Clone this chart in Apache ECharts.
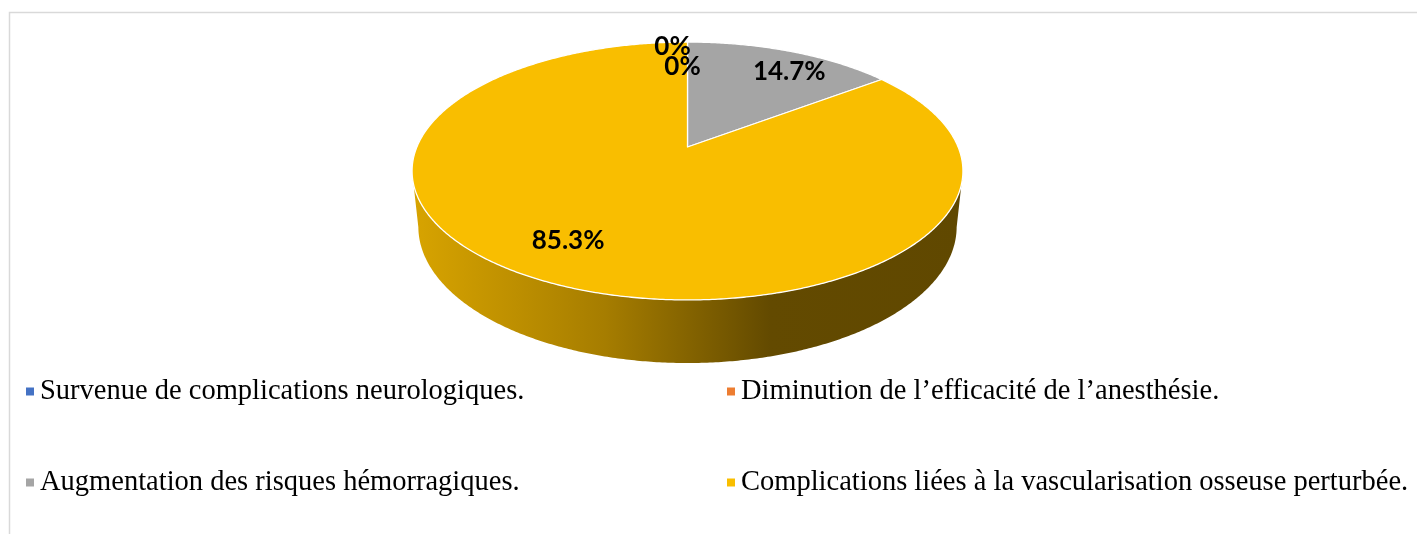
<!DOCTYPE html>
<html>
<head>
<meta charset="utf-8">
<script src="https://cdn.jsdelivr.net/npm/echarts@6/dist/echarts.min.js"></script>
<style>
  html, body { margin: 0; padding: 0; background: #ffffff; }
  #chart { width: 1417px; height: 534px; }
</style>
</head>
<body>
<div id="chart"></div>
<script>
// Categories and their share (%)
const categories = [
  'Survenue de complications neurologiques.',
  'Diminution de l’efficacité de l’anesthésie.',
  'Augmentation des risques hémorragiques.',
  'Complications liées à la vascularisation osseuse perturbée.'
];
const percentages = [0, 0, 14.7, 85.3];
const sliceColors = ['#4472C4', '#ED7D31', '#A5A5A5', '#F9BE00'];
// shading of each slice's outer wall, left to right
const wallShades = [
  ['#3a62a8', '#2d4d86', '#1f365f', '#1d335a'],
  ['#cc6a28', '#a3551f', '#6f3a15', '#6a3714'],
  ['#8e8e8e', '#727272', '#525252', '#4f4f4f'],
  ['#d8a400', '#a67d00', '#634a00', '#604800']
];

// Legend grouping (two columns)
const legendColumnA = [categories[0], categories[2]];
const legendColumnB = [categories[1], categories[3]];

// 3D view of a tilted disc, projected with perspective
const view = {
  cx: 687.5, cy: 147,
  tilt: Math.asin(0.46),
  dist: 4.774,
  focal: 1292,
  depth: 0.234
};
// nudges for label placement (pixels)
const labelNudge = [[-15, -9], [-5, 11], [12, 8], [0, -17]];

function project(theta, r, y) {
  const X = r * Math.sin(theta);
  const Z = -r * Math.cos(theta);
  const s = Math.sin(view.tilt), c = Math.cos(view.tilt);
  const yc = y * c - Z * s;
  const d = view.dist - Z * c - y * s;
  return [view.cx + view.focal * X / d, view.cy - view.focal * yc / d];
}

const total = percentages.reduce((a, b) => a + b, 0);
const silhouette = Math.acos(-Math.cos(view.tilt) / view.dist);
const frontRange = [silhouette, 2 * Math.PI - silhouette];

function arcPoints(a0, a1, r, y, steps) {
  const pts = [];
  const n = Math.max(2, Math.ceil(Math.abs(a1 - a0) / (2 * Math.PI) * steps));
  for (let k = 0; k <= n; k++) {
    pts.push(project(a0 + (a1 - a0) * k / n, r, y));
  }
  return pts;
}

function sliceRenderer(idx) {
  return function (params, api) {
    const value = api.value(0);
    let start = 0;
    for (let k = 0; k < idx; k++) start += percentages[k];
    const a0 = start / total * 2 * Math.PI;
    const a1 = (start + value) / total * 2 * Math.PI;
    const color = sliceColors[idx];
    const shades = wallShades[idx];
    const children = [];

    if (value > 0) {
      // visible outer wall
      const s0 = Math.max(a0, frontRange[0]);
      const s1 = Math.min(a1, frontRange[1]);
      if (s1 > s0) {
        const topEdge = arcPoints(s0, s1, 1, 0, 720);
        const bottomEdge = arcPoints(s1, s0, 1, -view.depth, 720);
        children.push({
          type: 'polygon',
          z2: 1,
          shape: { points: topEdge.concat(bottomEdge) },
          style: {
            fill: new echarts.graphic.LinearGradient(0, 0, 1, 0, [
              { offset: 0, color: shades[0] },
              { offset: 0.35, color: shades[1] },
              { offset: 0.65, color: shades[2] },
              { offset: 1, color: shades[3] }
            ]),
            stroke: null
          }
        });
      }
      // top face
      const topPts = [project(0, 0, 0)].concat(arcPoints(a0, a1, 1, 0, 720));
      children.push({
        type: 'polygon',
        z2: 5,
        shape: { points: topPts },
        style: { fill: color, stroke: '#ffffff', lineWidth: 1.3, lineJoin: 'round' }
      });
    }

    // data label
    const mid = (a0 + a1) / 2;
    const p = project(mid, 0.85, 0);
    children.push({
      type: 'text',
      z2: 10,
      x: p[0] + labelNudge[idx][0],
      y: p[1] + labelNudge[idx][1],
      style: {
        text: value + '%',
        font: 'bold 26px Lato, "Open Sans", sans-serif',
        fill: '#000000',
        align: 'center',
        verticalAlign: 'middle'
      }
    });

    return { type: 'group', children: children };
  };
}

const chart = echarts.init(document.getElementById('chart'), null, { renderer: 'canvas' });

const legendBase = {
  orient: 'vertical',
  top: 377,
  padding: 0,
  itemGap: 62,
  itemWidth: 8,
  itemHeight: 8,
  icon: 'rect',
  selectedMode: false,
  textStyle: {
    fontFamily: '"Liberation Serif", "Times New Roman", serif',
    fontSize: 28.5,
    color: '#000000',
    padding: [0, 0, 0, 1]
  }
};

chart.setOption({
  animation: false,
  backgroundColor: '#ffffff',
  graphic: [{
    type: 'rect',
    silent: true,
    z: -10,
    shape: { x: 9.5, y: 12.5, width: 1440, height: 560 },
    style: { fill: 'none', stroke: '#d9d9d9', lineWidth: 1.5 }
  }],
  legend: [
    Object.assign({}, legendBase, { left: 26, data: legendColumnA }),
    Object.assign({}, legendBase, { left: 727, data: legendColumnB })
  ],
  series: categories.map((name, i) => ({
    type: 'custom',
    name: name,
    coordinateSystem: 'none',
    itemStyle: { color: sliceColors[i] },
    renderItem: sliceRenderer(i),
    data: [[percentages[i]]]
  }))
});
</script>
</body>
</html>
